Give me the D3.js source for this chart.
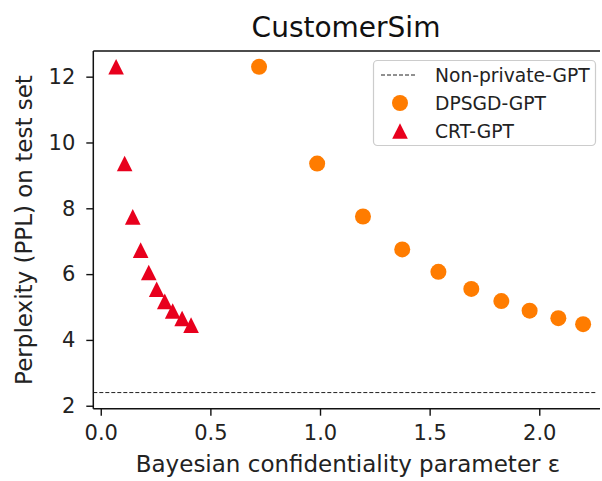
<!DOCTYPE html>
<html>
<head>
<meta charset="utf-8">
<script src="https://cdn.jsdelivr.net/npm/d3@7"></script>
<style>
  body { margin: 0; background: #fff; }
  svg { display: block; font-family: "DejaVu Sans", sans-serif; }
</style>
</head>
<body>
<div id="chart"></div>
<script>
// data
let dpsgdEps = [0.722, 0.987, 1.196, 1.375, 1.54, 1.69, 1.827, 1.956, 2.087, 2.2];
let dpsgdPpl = [12.3, 9.36, 7.75, 6.75, 6.07, 5.55, 5.18, 4.89, 4.66, 4.48];
let crtEps = [0.07, 0.109, 0.146, 0.182, 0.219, 0.255, 0.292, 0.328, 0.371, 0.412];
let crtPpl = [12.3, 9.36, 7.74, 6.73, 6.05, 5.54, 5.17, 4.88, 4.65, 4.45];
let nonPrivatePpl = 2.4;
let xTicks = [0, 0.5, 1.0, 1.5, 2.0];
let yTicks = [2, 4, 6, 8, 10, 12];
let legendLabels = ["Non-private-GPT", "DPSGD-GPT", "CRT-GPT"];

let width = 602,
    height = 481,
    margin = { top: 51, right: 2, bottom: 72.3, left: 93.3 };

let orange = "#ff7c00",
    red = "#e8001d";

let svg = d3.select("#chart").append("svg")
    .attr("width", width)
    .attr("height", height);

let x = d3.scaleLinear()
    .domain([-0.034, 2.277])
    .range([margin.left, width - margin.right]);

let y = d3.scaleLinear()
    .domain([1.91, 12.78])
    .range([height - margin.bottom, margin.top]);

// matplotlib style '^' marker: width == height, centred on bbox
function triangle(cx, cy, h) {
    return "M" + cx + "," + (cy - h) + "L" + (cx - h) + "," + (cy + h) + "L" + (cx + h) + "," + (cy + h) + "Z";
}

// non-private baseline
svg.append("line")
    .attr("x1", x.range()[0])
    .attr("x2", x.range()[1] - 3)
    .attr("y1", y(nonPrivatePpl))
    .attr("y2", y(nonPrivatePpl))
    .attr("stroke", "#222")
    .attr("stroke-width", 1)
    .attr("stroke-dasharray", "4,2");

// DPSGD points
svg.append("g").selectAll("circle")
    .data(dpsgdEps.map((d, i) => [d, dpsgdPpl[i]]))
    .join("circle")
    .attr("cx", d => x(d[0]))
    .attr("cy", d => y(d[1]))
    .attr("r", 8)
    .attr("fill", orange);

// CRT points
svg.append("g").selectAll("path")
    .data(crtEps.map((d, i) => [d, crtPpl[i]]))
    .join("path")
    .attr("d", d => triangle(x(d[0]), y(d[1]), 7.8))
    .attr("fill", red);

// axes
let xAxis = svg.append("g")
    .attr("transform", "translate(0," + y.range()[0] + ")")
    .call(d3.axisBottom(x).tickValues(xTicks).tickFormat(d3.format(".1f")).tickSize(7).tickPadding(9).tickSizeOuter(0));

let yAxis = svg.append("g")
    .attr("transform", "translate(" + x.range()[0] + ",0)")
    .call(d3.axisLeft(y).tickValues(yTicks).tickFormat(d3.format("d")).tickSize(7).tickPadding(11).tickSizeOuter(0));

[xAxis, yAxis].forEach(function(a) {
    a.select(".domain").remove();
    a.selectAll(".tick line").attr("stroke", "#111").attr("stroke-width", 1.4);
    a.selectAll(".tick text")
        .attr("fill", "#222")
        .style("font-size", "21px")
        .style("font-family", "DejaVu Sans, sans-serif");
});

// spines (right one falls outside the picture)
let spine = svg.append("g").attr("stroke", "#111").attr("stroke-width", 1.5);
spine.append("line")
    .attr("x1", x.range()[0]).attr("x2", x.range()[0])
    .attr("y1", y.range()[1]).attr("y2", y.range()[0]);
spine.append("line")
    .attr("x1", x.range()[0]).attr("x2", x.range()[1])
    .attr("y1", y.range()[0]).attr("y2", y.range()[0]);
spine.append("line")
    .attr("x1", x.range()[0]).attr("x2", x.range()[1])
    .attr("y1", y.range()[1]).attr("y2", y.range()[1]);

// title and axis labels
svg.append("text")
    .attr("x", 346)
    .attr("y", 37)
    .attr("text-anchor", "middle")
    .attr("fill", "#111")
    .style("font-size", "28px")
    .text("CustomerSim");

svg.append("text")
    .attr("x", 348)
    .attr("y", 472)
    .attr("text-anchor", "middle")
    .attr("fill", "#222")
    .style("font-size", "23px")
    .text("Bayesian confidentiality parameter \u03b5");

svg.append("text")
    .attr("transform", "translate(32,230) rotate(-90)")
    .attr("text-anchor", "middle")
    .attr("fill", "#222")
    .style("font-size", "23px")
    .text("Perplexity (PPL) on test set");

// legend
let legend = svg.append("g");
legend.append("rect")
    .attr("x", 373.5)
    .attr("y", 60.5)
    .attr("width", 222)
    .attr("height", 85)
    .attr("rx", 4)
    .attr("fill", "#fff")
    .attr("fill-opacity", 0.8)
    .attr("stroke", "#ccc")
    .attr("stroke-width", 1.2);

let rowY = [75, 103, 131];
legend.append("line")
    .attr("x1", 381).attr("x2", 417)
    .attr("y1", rowY[0]).attr("y2", rowY[0])
    .attr("stroke", "#222")
    .attr("stroke-width", 1)
    .attr("stroke-dasharray", "4,2");
legend.append("circle")
    .attr("cx", 400).attr("cy", rowY[1])
    .attr("r", 8)
    .attr("fill", orange);
legend.append("path")
    .attr("d", triangle(400, rowY[2], 7.8))
    .attr("fill", red);

legend.selectAll("text.lab")
    .data(legendLabels)
    .join("text")
    .attr("class", "lab")
    .attr("x", 435)
    .attr("y", (d, i) => rowY[i])
    .attr("dy", "0.36em")
    .attr("fill", "#222")
    .style("font-size", "18.7px")
    .text(d => d);
</script>
</body>
</html>
